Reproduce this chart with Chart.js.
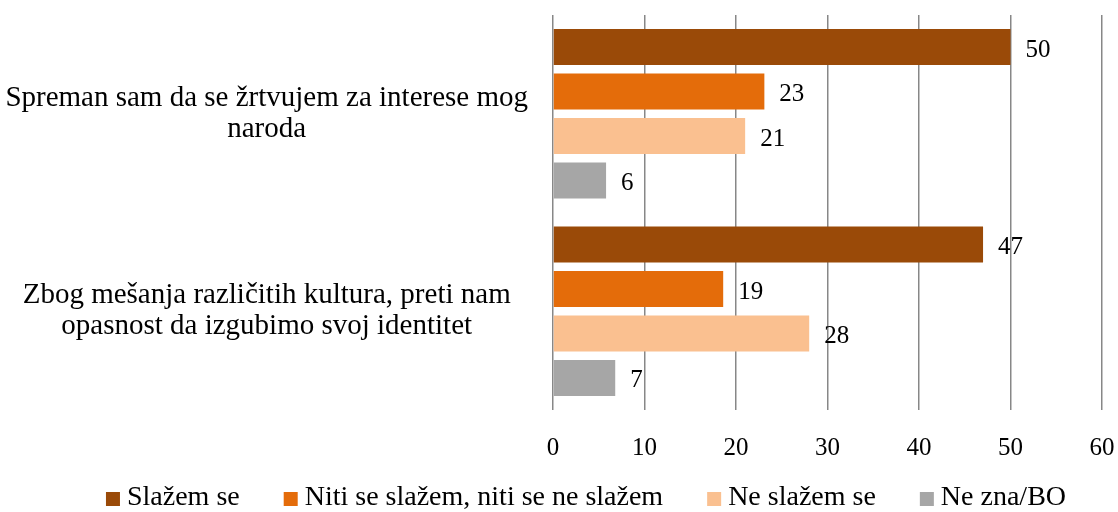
<!DOCTYPE html>
<html>
<head>
<meta charset="utf-8">
<script src="https://cdn.jsdelivr.net/npm/chart.js@4"></script>
<style>
  html, body { margin: 0; padding: 0; background: #fff; }
  #wrap { width: 1118px; height: 512px; }
</style>
</head>
<body>
<div id="wrap"><canvas id="stavoviChart"></canvas></div>
<script>
// categories (multi-line labels)
var categories = [
  ['Spreman sam da se žrtvujem za interese mog', 'naroda'],
  ['Zbog mešanja različitih kultura, preti nam', 'opasnost da izgubimo svoj identitet']
];

// series values
var slazemSe = [50, 47];
var nitiNiti = [23.1, 18.6];
var neSlazemSe = [21, 28];
var neZna = [5.8, 6.8];

var seriesNames = ['Slažem se', 'Niti se slažem, niti se ne slažem', 'Ne slažem se', 'Ne zna/BO'];
var xTicks = [0, 10, 20, 30, 40, 50, 60];

var colors = ['#9A4A08', '#E46C0A', '#FAC090', '#A6A6A6'];
var serif = '"Liberation Serif", "Times New Roman", serif';

// value labels to the right of bars
var valueLabels = {
  id: 'valueLabels',
  afterDatasetsDraw: function(chart) {
    var ctx = chart.ctx;
    ctx.save();
    ctx.font = '25px ' + serif;
    ctx.fillStyle = '#000';
    ctx.textAlign = 'left';
    ctx.textBaseline = 'middle';
    chart.data.datasets.forEach(function(ds, i) {
      chart.getDatasetMeta(i).data.forEach(function(bar, j) {
        ctx.fillText(Math.round(ds.data[j]), bar.x + 15, bar.y + 3);
      });
    });
    ctx.restore();
  }
};

// legend row under the axis, drawn from the dataset labels/colours
var bottomLegend = {
  id: 'bottomLegend',
  afterDraw: function(chart) {
    var ctx = chart.ctx;
    var box = 14, textGap = 7, itemGap = 44;
    var centerX = 586, y = 498;
    ctx.save();
    ctx.font = '28px ' + serif;
    ctx.textBaseline = 'middle';
    ctx.textAlign = 'left';
    var widths = chart.data.datasets.map(function(ds) {
      return box + textGap + ctx.measureText(ds.label).width;
    });
    var total = widths.reduce(function(a, b) { return a + b; }, 0) + itemGap * (widths.length - 1);
    var x = centerX - total / 2;
    chart.data.datasets.forEach(function(ds, i) {
      ctx.fillStyle = ds.backgroundColor;
      ctx.fillRect(x, y - box / 2 + 1, box, box);
      ctx.fillStyle = '#000';
      ctx.fillText(ds.label, x + box + textGap, y);
      x += widths[i] + itemGap;
    });
    ctx.restore();
  }
};

function createChart() {
  var ctx = document.getElementById('stavoviChart').getContext('2d');
  var allSeries = [slazemSe, nitiNiti, neSlazemSe, neZna];
  var datasets = allSeries.map(function(values, i) {
    return {
      label: seriesNames[i],
      data: values,
      backgroundColor: colors[i],
      borderWidth: 0,
      categoryPercentage: 0.9,
      barPercentage: 0.81
    };
  });

  new Chart(ctx, {
    type: 'bar',
    data: { labels: categories, datasets: datasets },
    plugins: [valueLabels, bottomLegend],
    options: {
      indexAxis: 'y',
      responsive: true,
      maintainAspectRatio: false,
      animation: false,
      layout: { padding: { top: 15, right: 16, left: 0, bottom: 38 } },
      plugins: {
        tooltip: { enabled: false },
        legend: { display: false }
      },
      scales: {
        x: {
          min: 0,
          max: 60,
          afterBuildTicks: function(scale) {
            scale.ticks = xTicks.map(function(v) { return { value: v }; });
          },
          afterFit: function(scale) {
            scale.height = 64;
            scale.paddingLeft = 0;
            scale.paddingRight = 0;
          },
          border: { display: false },
          grid: { color: '#878787', lineWidth: 1.5, drawTicks: false },
          ticks: {
            padding: 23,
            color: '#000',
            font: { family: serif, size: 25 }
          }
        },
        y: {
          afterFit: function(scale) {
            scale.width = 553;
            scale.paddingTop = 0;
            scale.paddingBottom = 0;
          },
          border: { display: false },
          grid: { display: false, drawTicks: false },
          ticks: {
            crossAlign: 'center',
            padding: 25,
            color: '#000',
            font: { family: serif, size: 29, lineHeight: 1.07 }
          }
        }
      }
    }
  });
}

document.addEventListener('DOMContentLoaded', createChart);
</script>
</body>
</html>
